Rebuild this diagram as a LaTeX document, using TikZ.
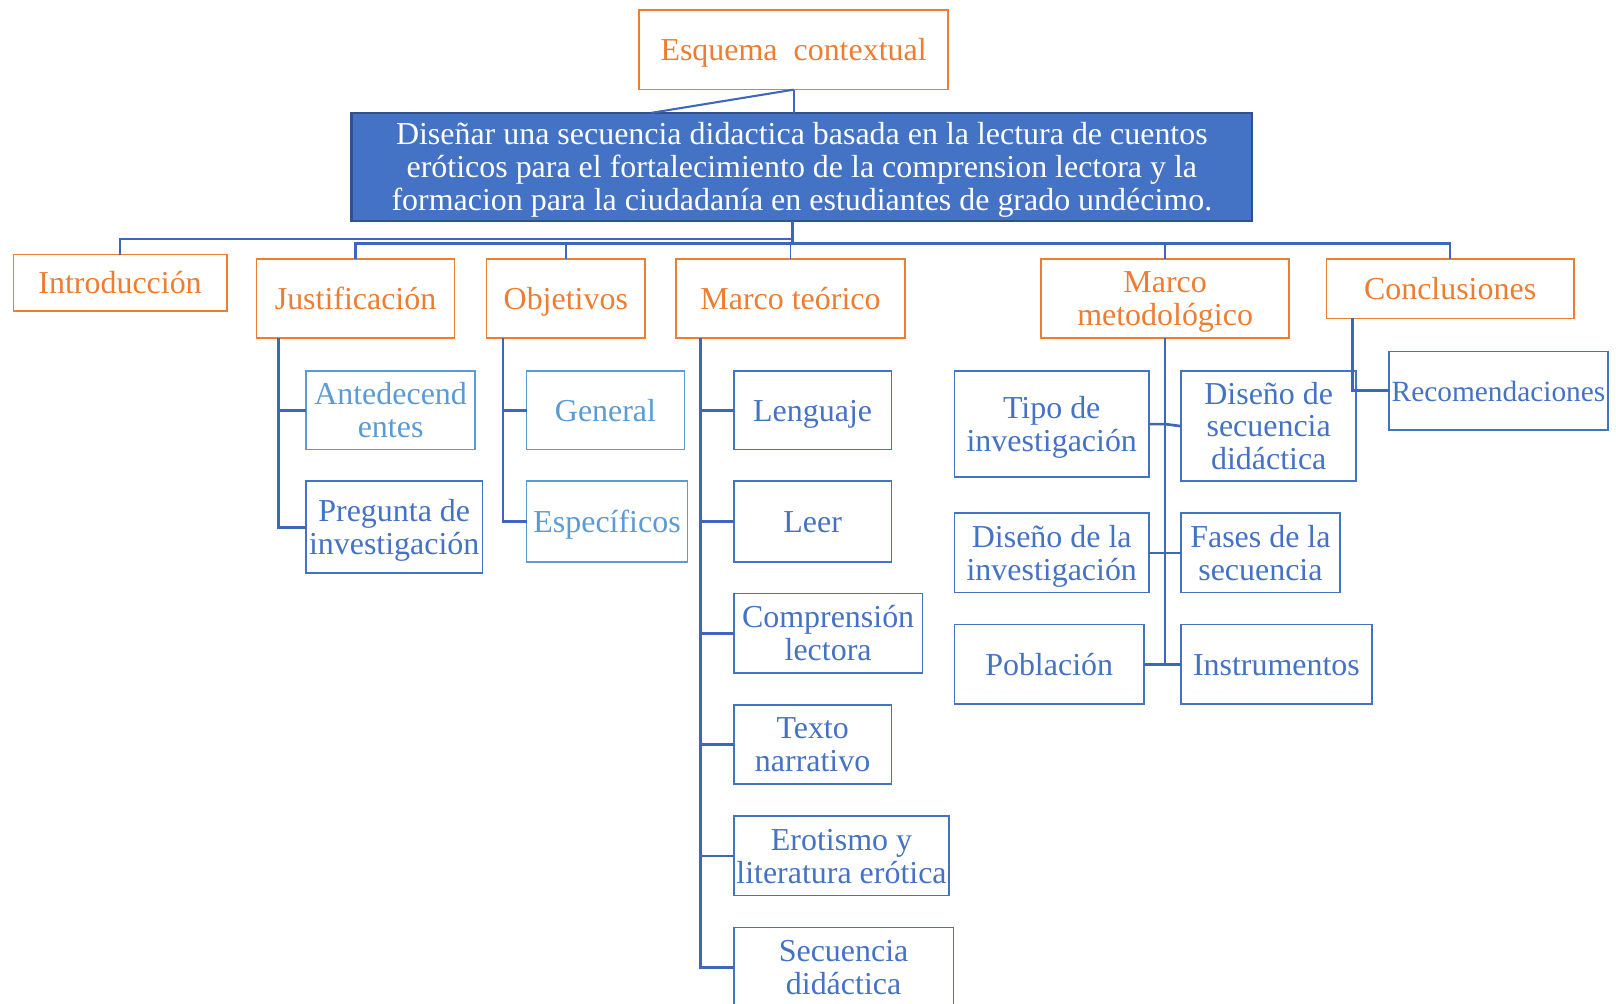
\documentclass[tikz,border=0pt]{standalone}
\usepackage{fontspec}
\setmainfont{Liberation Serif}
\definecolor{orng}{HTML}{ED7D31}
\definecolor{blu}{HTML}{4472C4}
\definecolor{lblu}{HTML}{5B9BD5}
\definecolor{dblu}{HTML}{2F528F}
\definecolor{cblu}{HTML}{3F66BD}
\begin{document}
\begin{tikzpicture}[x={(1pt,0)},y={(0,-1pt)},
  every node/.style={inner sep=0pt, outer sep=0pt, align=center, font=\fontsize{31}{32}\selectfont},
  obox/.style={draw=orng, line width=1.6pt, fill=white, text=orng},
  bbox/.style={draw=blu, line width=1.6pt, fill=white, text=blu},
  lbox/.style={draw=lblu, line width=1.6pt, fill=white, text=lblu},
  conn/.style={draw=cblu, line width=2.6pt}]
\useasboundingbox (0,0) rectangle (1568,974);
\clip (0,0) rectangle (1568,974);
% helper: box(style,name,x1,y1,x2,y2,text)
\newcommand\mybox[7]{\node[#1, minimum width={(#5)-(#3)}, minimum height={(#6)-(#4)}] (#2) at ({((#3)+(#5))/2},{((#4)+(#6))/2}) {\rule{0pt}{31pt}#7\rule[-10pt]{0pt}{10pt}};}
% top
\mybox{obox}{esq}{620}{10}{920}{87}{Esquema\ \ contextual}
\mybox{draw=dblu, line width=2.5pt, fill=blu, text=white}{main}{341}{111}{1215}{213}{Diseñar una secuencia didactica basada en la lectura de cuentos\\eróticos para el fortalecimiento de la comprension lectora y la\\formacion para la ciudadanía en estudiantes de grado undécimo.}
% level 1
\mybox{obox}{intro}{13}{247}{220}{302}{Introducción}
\mybox{obox}{just}{249}{251}{441}{328}{Justificación}
\mybox{obox}{obj}{472}{251}{626}{328}{Objetivos}
\mybox{obox}{mt}{656}{251}{878}{328}{Marco teórico}
\mybox{obox}{mm}{1010}{251}{1251}{328}{Marco\\metodológico}
\mybox{obox}{conc}{1287}{251}{1527}{309}{Conclusiones}
% level 2
\mybox{lbox}{ante}{297}{360}{461}{436}{Antedecend\\entes}
\mybox{bbox}{preg}{297}{467}{468}{556}{Pregunta de\\investigación}
\mybox{lbox}{gen}{511}{360}{664}{436}{General}
\mybox{lbox}{esp}{511}{467}{667}{545}{Específicos}
\mybox{bbox}{len}{712}{360}{865}{436}{Lenguaje}
\mybox{bbox}{leer}{712}{467}{865}{545}{Leer}
\mybox{bbox}{comp}{712}{576}{895}{653}{Comprensión\\lectora}
\mybox{bbox}{tex}{712}{684}{865}{761}{Texto\\narrativo}
\mybox{bbox}{ero}{712}{792}{921}{869}{Erotismo y\\literatura erótica}
\mybox{bbox}{sec}{712}{900}{925}{977}{Secuencia\\didáctica}
\mybox{bbox}{tipo}{926}{360}{1115}{463}{Tipo de\\investigación}
\mybox{bbox}{dsd}{1146}{360}{1316}{467}{Diseño de\\secuencia\\didáctica}
\mybox{bbox}{dinv}{926}{498}{1115}{575}{Diseño de la\\investigación}
\mybox{bbox}{fases}{1146}{498}{1300}{575}{Fases de la\\secuencia}
\mybox{bbox}{pob}{926}{606}{1110}{683}{Población}
\mybox{bbox}{ins}{1146}{606}{1331}{683}{Instrumentos}
\mybox{bbox, font=\fontsize{28.5}{32}\selectfont}{rec}{1348}{341}{1560}{417}{Recomendaciones}
% top connectors
\draw[conn, line width=2pt] (esq.south) -- (esq.south |- main.north);
\draw[conn, line width=2pt] (esq.south) -- ([xshift=291]main.north west);
\coordinate (busA) at (769,236);
\coordinate (busB) at (769,232);
\draw[conn] (main.south -| busA) -- (busA);
\draw[conn] (busB) -| (intro.north);
\draw[conn] (just.north) -- (just.north |- busA) -- (conc.north |- busA) -- (conc.north);
\draw[conn, line width=1.8pt] (obj.north) -- (obj.north |- busA);
\draw[conn, line width=1.8pt] (mt.north) -- (mt.north |- busA);
\draw[conn, line width=1.8pt] (mm.north) -- (mm.north |- busA);
% justificacion
\draw[conn] ([xshift=21]just.south west) |- (ante.west);
\draw[conn] ([xshift=21]just.south west) |- (preg.west);
% objetivos
\draw[conn] ([xshift=16]obj.south west) |- (gen.west);
\draw[conn] ([xshift=16]obj.south west) |- (esp.west);
% marco teorico
\foreach \n in {len,leer,comp,tex,ero,sec}{
  \draw[conn] ([xshift=24]mt.south west) |- (\n.west);
}
% marco metodologico
\draw[conn] (mm.south) -- (mm.south |- pob.east);
\draw[conn] (tipo.east) -- (tipo.east -| mm.south) -- (dsd.west);
\draw[conn] (dinv.east) -- (fases.west);
\draw[conn] (pob.east) -- (ins.west);
% conclusiones
\draw[conn] ([xshift=25]conc.south west) |- (rec.west);
\end{tikzpicture}
\end{document}
